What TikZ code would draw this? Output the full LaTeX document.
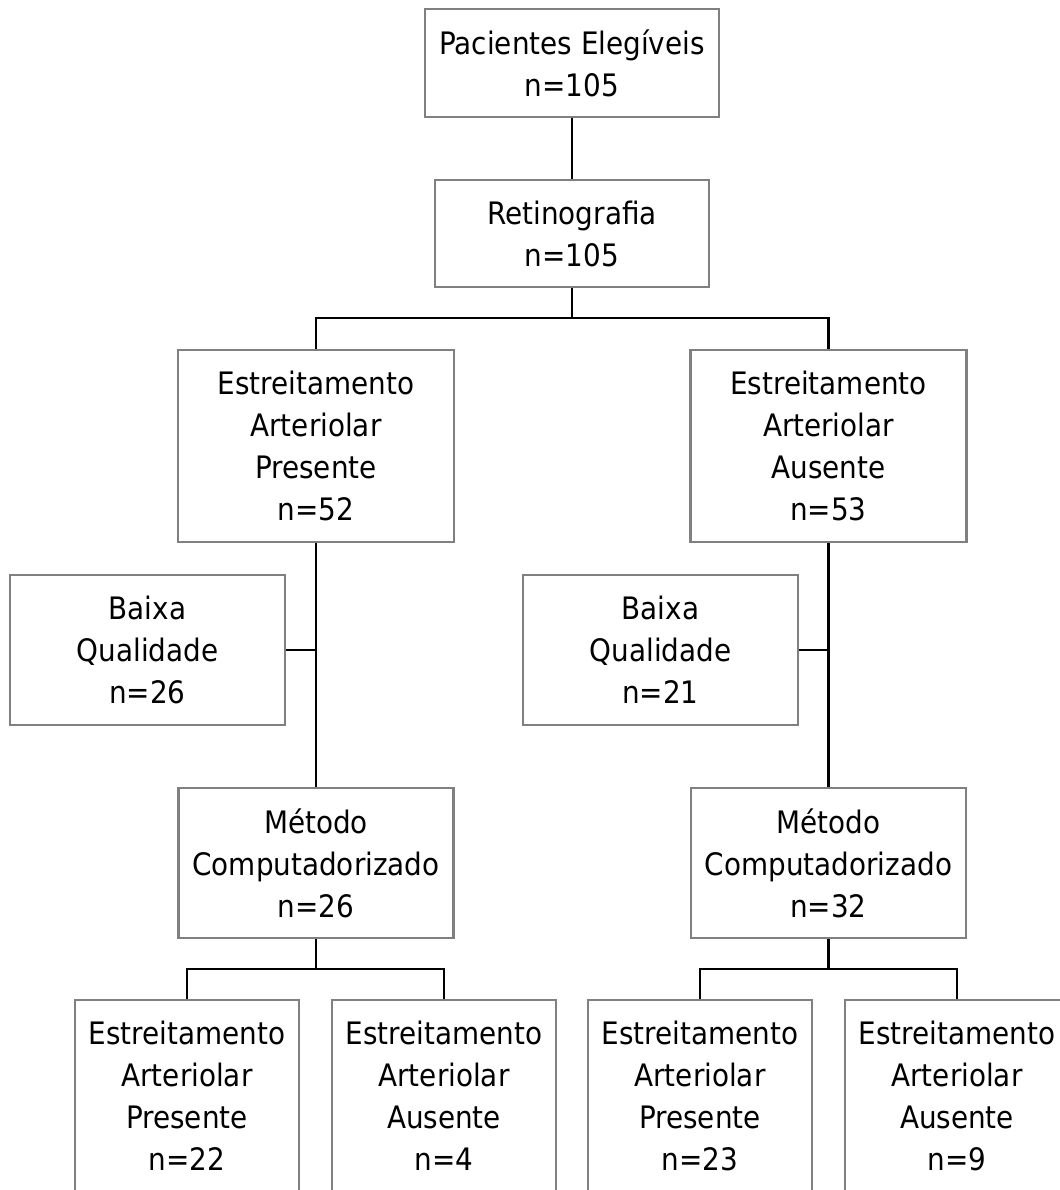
\documentclass[tikz,border=0pt]{standalone}
\usepackage{fontspec}
\setmainfont{DejaVu Sans}[FakeStretch=0.9]
\definecolor{boxgray}{RGB}{128,128,128}
\tikzset{
  box/.style={draw=boxgray, line width=1.4pt, align=center, inner sep=0pt,
    font=\fontsize{17.6pt}{23.9pt}\selectfont},
  wide/.style={minimum width=5.52cm, minimum height=3.84cm},
  mid/.style={minimum width=5.5cm, minimum height=3.0cm},
  leaf/.style={minimum width=4.48cm, minimum height=3.84cm},
  link/.style={draw=black, line width=1.5pt},
}

\begin{document}
\begin{tikzpicture}
  \clip (0,0) rectangle (21.2,23.8); % page

% TOP BOXES ===================================================================
  \node[box,minimum width=5.88cm,minimum height=2.16cm] (eleg) at (11.44,22.54) {Pacientes Elegíveis\\n=105};
  \node[box,minimum width=5.48cm,minimum height=2.14cm] (retino) at (11.44,19.13) {Retinografia\\n=105};
  \draw[link] (eleg.south) to (retino.north);

% ESTREITAMENTO ===============================================================
  \node[box,wide] (estl) at (6.32,14.88) {Estreitamento\\Arteriolar\\Presente\\n=52};
  \node[box,wide] (estr) at (16.57,14.88) {Estreitamento\\Arteriolar\\Ausente\\n=53};
  \coordinate (split) at (11.44,17.44);
  \draw[link] (retino.south) to (split);
  \draw[link] (estl.north) |- (split) -| (estr.north);

% BAIXA QUALIDADE =============================================================
  \node[box,mid] (baixl) at (2.95,10.80) {Baixa\\Qualidade\\n=26};
  \node[box,mid] (baixr) at (13.21,10.80) {Baixa\\Qualidade\\n=21};

% METODO ======================================================================
  \node[box,mid] (metl) at (6.32,6.54) {Método\\Computadorizado\\n=26};
  \node[box,mid] (metr) at (16.57,6.54) {Método\\Computadorizado\\n=32};
  \draw[link] (estl.south) to (metl.north);
  \draw[link] (estr.south) to (metr.north);
  \draw[link] (baixl.east) to (baixl.east -| estl.south);
  \draw[link] (baixr.east) to (baixr.east -| estr.south);

% RESULTS =====================================================================
  \foreach \x/\name/\kind/\cnt in {3.74/respl/Presente/22, 8.88/resal/Ausente/4,
                                   14.00/respr/Presente/23, 19.14/resar/Ausente/9} {
    \node[box,leaf] (\name) at (\x,1.88) {Estreitamento\\Arteriolar\\\kind\\n=\cnt};
  }
  \coordinate (splitl) at (6.32,4.42);
  \coordinate (splitr) at (16.57,4.42);
  \draw[link] (metl.south) to (splitl);
  \draw[link] (metr.south) to (splitr);
  \draw[link] (respl.north) |- (splitl) -| (resal.north);
  \draw[link] (respr.north) |- (splitr) -| (resar.north);

\end{tikzpicture}
\end{document}
